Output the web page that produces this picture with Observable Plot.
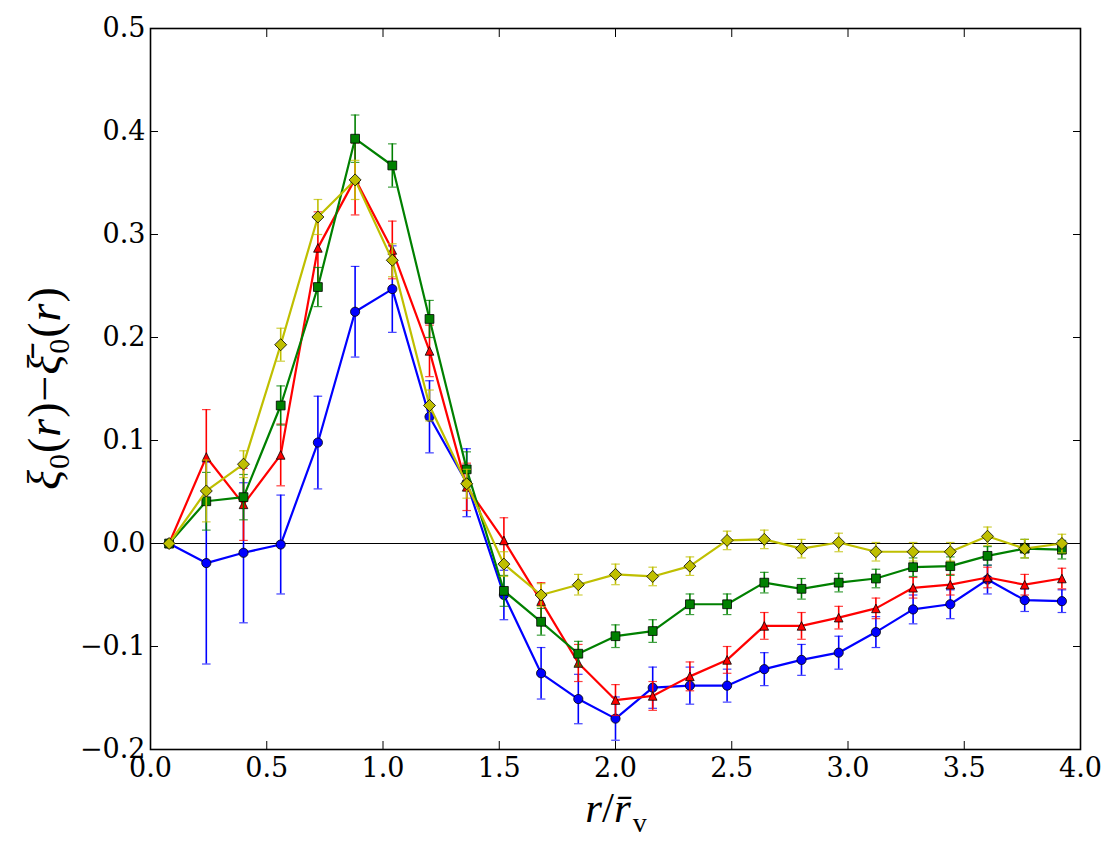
<!DOCTYPE html>
<html>
<head>
<meta charset="utf-8">
<script src="https://cdn.jsdelivr.net/npm/d3@7"></script>
<script src="https://cdn.jsdelivr.net/npm/@observablehq/plot@0.6"></script>
<style>
  html, body { margin: 0; padding: 0; background: #fff; }
  #chart svg { display: block; }
</style>
</head>
<body>
<div id="chart"></div>
<script>
// ---- data ----
const rVals = [0.08, 0.24, 0.40, 0.56, 0.72, 0.88, 1.04, 1.20, 1.36, 1.52, 1.68, 1.84, 2.00,
               2.16, 2.32, 2.48, 2.64, 2.80, 2.96, 3.12, 3.28, 3.44, 3.60, 3.76, 3.92];

const blueVals = [0, -0.019, -0.009, -0.001, 0.098, 0.225, 0.247, 0.123, 0.059, -0.050, -0.126, -0.151, -0.170,
                  -0.140, -0.138, -0.138, -0.122, -0.113, -0.106, -0.086, -0.064, -0.059, -0.035, -0.055, -0.056];
const blueErr  = [0, 0.098, 0.068, 0.048, 0.045, 0.044, 0.042, 0.035, 0.033, 0.024, 0.025, 0.024, 0.021,
                  0.020, 0.018, 0.016, 0.016, 0.015, 0.016, 0.015, 0.014, 0.014, 0.014, 0.011, 0.011];

const redVals  = [0, 0.084, 0.038, 0.086, 0.287, 0.354, 0.285, 0.187, 0.055, 0.003, -0.056, -0.116, -0.152,
                  -0.148, -0.129, -0.113, -0.080, -0.080, -0.072, -0.063, -0.043, -0.040, -0.033, -0.040, -0.034];
const redErr   = [0, 0.046, 0.035, 0.030, 0.035, 0.035, 0.028, 0.025, 0.023, 0.022, 0.018, 0.018, 0.015,
                  0.014, 0.014, 0.013, 0.013, 0.013, 0.011, 0.010, 0.010, 0.010, 0.010, 0.010, 0.010];

const greenVals = [0, 0.041, 0.045, 0.134, 0.249, 0.393, 0.367, 0.218, 0.072, -0.046, -0.076, -0.107, -0.090,
                   -0.085, -0.059, -0.059, -0.038, -0.044, -0.038, -0.034, -0.023, -0.022, -0.012, -0.005, -0.006];
const greenErr  = [0, 0.028, 0.022, 0.019, 0.019, 0.023, 0.021, 0.018, 0.017, 0.015, 0.013, 0.012, 0.011,
                   0.011, 0.010, 0.010, 0.010, 0.010, 0.009, 0.009, 0.009, 0.009, 0.009, 0.009, 0.009];

const yellowVals = [0, 0.051, 0.077, 0.193, 0.317, 0.353, 0.275, 0.134, 0.058, -0.020, -0.050, -0.040, -0.030,
                    -0.032, -0.022, 0.003, 0.004, -0.005, 0.001, -0.008, -0.008, -0.008, 0.007, -0.005, 0.000];
const yellowErr  = [0, 0.030, 0.013, 0.016, 0.017, 0.019, 0.016, 0.015, 0.014, 0.012, 0.011, 0.010, 0.010,
                    0.009, 0.009, 0.009, 0.009, 0.009, 0.009, 0.009, 0.009, 0.009, 0.009, 0.009, 0.009];

const xTicks = [0.0, 0.5, 1.0, 1.5, 2.0, 2.5, 3.0, 3.5, 4.0];
const yTicks = [-0.2, -0.1, 0.0, 0.1, 0.2, 0.3, 0.4, 0.5];

// ---- marker symbols (matplotlib-like) ----
const half = size => Math.sqrt(size / Math.PI);
const squareSym = {draw(ctx, size) { const h = half(size); ctx.moveTo(-h, -h); ctx.lineTo(h, -h); ctx.lineTo(h, h); ctx.lineTo(-h, h); ctx.closePath(); }};
const triSym = {draw(ctx, size) { const h = half(size); ctx.moveTo(0, -h); ctx.lineTo(h, h); ctx.lineTo(-h, h); ctx.closePath(); }};
const diamondSym = {draw(ctx, size) { const h = half(size); ctx.moveTo(0, -h); ctx.lineTo(h, 0); ctx.lineTo(0, h); ctx.lineTo(-h, 0); ctx.closePath(); }};
const capSym = {draw(ctx, size) { const h = half(size); ctx.moveTo(-h, 0); ctx.lineTo(h, 0); }};

const series = [
  {name: "blue",   color: "#0000ff", vals: blueVals,   err: blueErr,   symbol: "circle",   r: 4.6},
  {name: "red",    color: "#ff0000", vals: redVals,    err: redErr,    symbol: triSym,     r: 4.3},
  {name: "green",  color: "#008000", vals: greenVals,  err: greenErr,  symbol: squareSym,  r: 4.4},
  {name: "yellow", color: "#bfbf00", vals: yellowVals, err: yellowErr, symbol: diamondSym, r: 6.0}
];

const marks = [Plot.ruleY([0], {stroke: "black", strokeWidth: 1})];
for (const s of series) {
  const rows = rVals.map((x, i) => ({r: x, v: s.vals[i], lo: s.vals[i] - s.err[i], hi: s.vals[i] + s.err[i]}));
  marks.push(
    Plot.ruleX(rows, {x: "r", y1: "lo", y2: "hi", stroke: s.color, strokeWidth: 1.6}),
    Plot.dot(rows, {x: "r", y: "lo", symbol: capSym, r: 4.3, stroke: s.color, strokeWidth: 1.2, strokeOpacity: 0.75}),
    Plot.dot(rows, {x: "r", y: "hi", symbol: capSym, r: 4.3, stroke: s.color, strokeWidth: 1.2, strokeOpacity: 0.75}),
    Plot.line(rows, {x: "r", y: "v", stroke: s.color, strokeWidth: 2.2}),
    Plot.dot(rows, {x: "r", y: "v", symbol: s.symbol, r: s.r, fill: s.color, stroke: "black", strokeWidth: 0.8})
  );
}

const fmt = d3.format(".1f");
marks.push(
  Plot.axisX(xTicks, {anchor: "bottom", tickSize: -8, tickPadding: 16, tickFormat: fmt, fontSize: 27, label: null, stroke: "black"}),
  Plot.axisX(xTicks, {anchor: "top", tickSize: -8, tickFormat: () => "", label: null}),
  Plot.axisY(yTicks, {anchor: "left", tickSize: -8, tickPadding: 13, tickFormat: fmt, fontSize: 27, label: null}),
  Plot.axisY(yTicks, {anchor: "right", tickSize: -8, tickFormat: () => "", label: null}),
  Plot.frame({stroke: "black", strokeWidth: 1.6})
);

const chart = Plot.plot({
  width: 1118,
  height: 855,
  marginLeft: 150,
  marginRight: 38,
  marginTop: 28,
  marginBottom: 106,
  style: {fontFamily: "'DejaVu Serif', serif", background: "white", color: "black"},
  x: {domain: [0, 4]},
  y: {domain: [-0.2, 0.5]},
  marks
});

// ---- axis titles with subscript / accent structure ----
const titleFont = "'Liberation Serif', 'DejaVu Serif', serif";
const svg = d3.select(chart);
const xl = svg.append("text")
  .attr("x", 616).attr("y", 822)
  .attr("text-anchor", "middle")
  .style("font-family", titleFont)
  .attr("font-size", 43)
  .attr("fill", "black");
xl.append("tspan").attr("font-style", "italic").text("r");
xl.append("tspan").text("/");
xl.append("tspan").attr("font-style", "italic").text("r\u0304");
xl.append("tspan").attr("font-size", 28).attr("dy", 10).attr("dx", 2).text("v");

const yl = svg.append("text")
  .attr("transform", "translate(60,388) rotate(-90)")
  .attr("text-anchor", "middle")
  .style("font-family", titleFont)
  .attr("font-size", 46)
  .attr("letter-spacing", 1)
  .attr("fill", "black");
yl.append("tspan").attr("font-style", "italic").text("\u03BE");
yl.append("tspan").attr("font-size", 30).attr("dy", 9).text("0");
yl.append("tspan").attr("dy", -9).text("(");
yl.append("tspan").attr("font-style", "italic").text("r");
yl.append("tspan").text(")\u2212");
yl.append("tspan").attr("font-style", "italic").text("\u03BE\u0304");
yl.append("tspan").attr("font-size", 30).attr("dy", 9).text("0");
yl.append("tspan").attr("dy", -9).text("(");
yl.append("tspan").attr("font-style", "italic").text("r");
yl.append("tspan").text(")");

document.getElementById("chart").appendChild(chart);
</script>
</body>
</html>
